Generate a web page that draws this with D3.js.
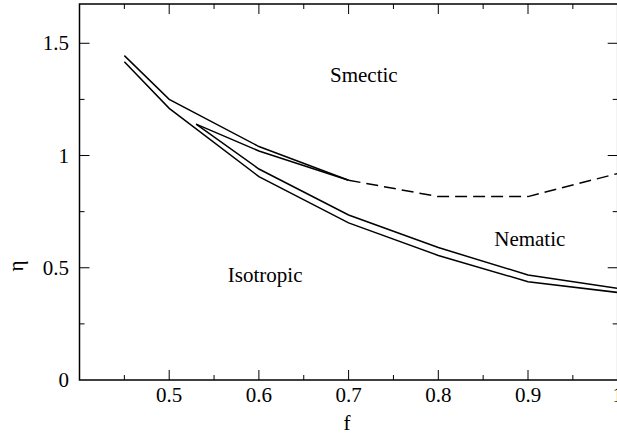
<!DOCTYPE html>
<html>
<head>
<meta charset="utf-8">
<script src="https://cdn.jsdelivr.net/npm/d3@7"></script>
<style>
  body { margin: 0; background: #fff; font-family: 'Liberation Serif', 'Times New Roman', 'DejaVu Serif'; }
  svg { display: block; }
  #warm { position: absolute; left: -1000px; top: 0; font-family: 'Liberation Serif'; font-size: 21px; }
</style>
</head>
<body>
<div id="warm">Smectic Nematic Isotropic 0.5 1 f η</div>
<svg id="chart" width="617" height="441"></svg>
<script>
// phase boundaries, f vs eta
var upperIso  = [[0.45, 1.445], [0.5, 1.25], [0.6, 1.04], [0.7, 0.89]];
var smecNem   = [[0.53, 1.14], [0.6, 1.02], [0.7, 0.89]];
var smecDash  = [[0.7, 0.89], [0.8, 0.817], [0.9, 0.817], [1.0, 0.92]];
var isoNemUp  = [[0.53, 1.14], [0.6, 0.94], [0.7, 0.735], [0.8, 0.59], [0.9, 0.468], [1.0, 0.408]];
var isoNemLow = [[0.45, 1.418], [0.5, 1.21], [0.6, 0.906], [0.7, 0.70], [0.8, 0.555], [0.9, 0.438], [1.0, 0.39]];

var xTicks = [0.5, 0.6, 0.7, 0.8, 0.9, 1.0];
var xMinor = [0.45, 0.55, 0.65, 0.75, 0.85, 0.95];
var yTicks = [0, 0.5, 1, 1.5];
var yMinor = [0.25, 0.75, 1.25];

var regions = [
    {name: "Smectic",   f: 0.717, eta: 1.328},
    {name: "Nematic",   f: 0.902, eta: 0.595},
    {name: "Isotropic", f: 0.607, eta: 0.438}
];

var labelSize = 21;
var serifFamily = "'Liberation Serif', 'Times New Roman', 'DejaVu Serif'";

// plot box ("top" is reserved on window, so keep edges in an object)
var box = {left: 79.5, right: 617.7, top: 4, bottom: 380};

var svg = d3.select("#chart");

var x = d3.scaleLinear().domain([0.4, 1.0]).range([box.left, box.right]);
var y = d3.scaleLinear().domain([0, 1.675]).range([box.bottom, box.top]);

var g = svg.append("g");

// frame
g.append("rect")
    .attr("x", box.left).attr("y", box.top)
    .attr("width", box.right - box.left).attr("height", box.bottom - box.top)
    .attr("fill", "none").attr("stroke", "#000").attr("stroke-width", 1.5);

// ticks pointing inward on all four sides
function tickLines(vals, len, horizontal) {
    vals.forEach(function(v) {
	if (horizontal) {
	    g.append("line").attr("x1", x(v)).attr("x2", x(v))
		.attr("y1", box.bottom).attr("y2", box.bottom - len)
		.attr("stroke", "#000").attr("stroke-width", 1);
	    g.append("line").attr("x1", x(v)).attr("x2", x(v))
		.attr("y1", box.top).attr("y2", box.top + len)
		.attr("stroke", "#000").attr("stroke-width", 1);
	} else {
	    g.append("line").attr("x1", box.left).attr("x2", box.left + len)
		.attr("y1", y(v)).attr("y2", y(v))
		.attr("stroke", "#000").attr("stroke-width", 1);
	    g.append("line").attr("x1", box.right).attr("x2", box.right - len)
		.attr("y1", y(v)).attr("y2", y(v))
		.attr("stroke", "#000").attr("stroke-width", 1);
	}
    });
}
tickLines(xTicks, 10, true);
tickLines(xMinor, 5, true);
tickLines(yTicks.filter(d => d > 0), 10, false);
tickLines(yMinor, 5, false);

g.selectAll("text.xt")
    .data(xTicks)
    .enter()
    .append("text")
    .attr("class", "xt")
    .attr("x", d => x(d))
    .attr("y", 402)
    .attr("text-anchor", "middle")
    .text(d => d === 1 ? "1" : d3.format(".1f")(d));

g.selectAll("text.yt")
    .data(yTicks)
    .enter()
    .append("text")
    .attr("class", "yt")
    .attr("x", 69)
    .attr("y", d => y(d) + 7)
    .attr("text-anchor", "end")
    .text(d => d === 0 || d === 1 ? String(d) : d3.format(".1f")(d));

// axis titles
svg.selectAll("text.title")
    .data([{t: "f", tr: "translate(347,430)"}, {t: "η", tr: "translate(23,266) rotate(-90)"}])
    .enter()
    .append("text")
    .attr("class", "title")
    .attr("transform", d => d.tr)
    .attr("text-anchor", "middle")
    .text(d => d.t);

var line = d3.line()
    .x(d => x(d[0]))
    .y(d => y(d[1]));

[upperIso, smecNem, isoNemUp, isoNemLow].forEach(function(series) {
    g.append("path")
	.attr("d", line(series))
	.attr("fill", "none")
	.attr("stroke", "#000")
	.attr("stroke-width", 1.5)
	.attr("stroke-linejoin", "miter");
});

g.append("path")
    .attr("d", line(smecDash))
    .attr("fill", "none")
    .attr("stroke", "#000")
    .attr("stroke-width", 1.5)
    .attr("stroke-dasharray", "12,6");

g.selectAll("text.region")
    .data(regions)
    .enter()
    .append("text")
    .attr("class", "region")
    .attr("x", d => x(d.f))
    .attr("y", d => y(d.eta))
    .attr("text-anchor", "middle")
    .text(d => d.name);

function applyFont() {
    svg.selectAll("text")
	.attr("font-size", labelSize)
	.attr("fill", "#000")
	.style("font-family", serifFamily);
}
applyFont();
// re-apply once the local font is resolved
if (document.fonts && document.fonts.load) {
    document.fonts.load(labelSize + "px 'Liberation Serif'").then(applyFont);
}
</script>
</body>
</html>
